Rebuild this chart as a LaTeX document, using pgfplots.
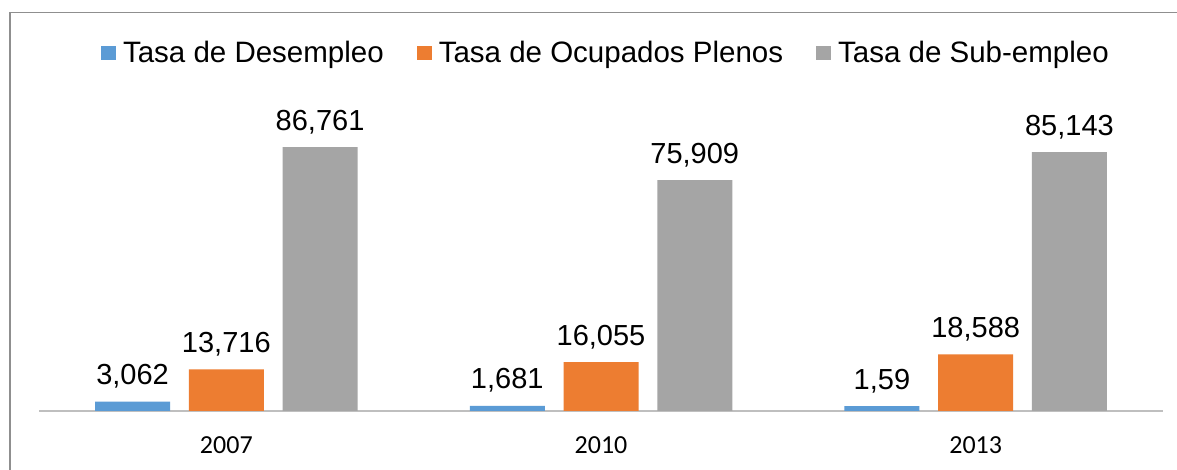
\documentclass[border=0pt]{standalone}
\usepackage{pgfplots}
\pgfplotsset{compat=1.18}
\usepackage{fontspec}
\setmainfont{Liberation Sans}
\newfontfamily\calibri{Carlito}
\definecolor{cblue}{HTML}{5B9BD5}
\definecolor{corange}{HTML}{ED7D31}
\definecolor{cgray}{HTML}{A5A5A5}
\definecolor{framegray}{HTML}{8F8F8F}
\definecolor{axisgray}{HTML}{BFBFBF}
\begin{document}
\begin{tikzpicture}
\useasboundingbox (0,0) rectangle (1177pt,470pt);
\fill[white] (0,0) rectangle (1177pt,470pt);
\draw[framegray, line width=1.2pt] (10pt,0) -- (10pt,457.5pt) -- (1177pt,457.5pt);
\begin{axis}[
  at={(39pt,59pt)}, anchor=south west,
  scale only axis, width=1124pt, height=304pt,
  xmin=-0.5, xmax=2.5, ymin=0, ymax=100,
  ybar=18.75pt, bar width=75pt,
  axis x line=bottom, axis y line=none,
  x axis line style={-, draw=axisgray, line width=1.3pt},
  xtick={0,1,2}, xticklabels={2007,2010,2013},
  major tick length=0pt,
  xticklabel style={font=\calibri\fontsize{26pt}{30pt}\selectfont, anchor=base, yshift=-43pt},
  ytick=\empty,
  clip=false,
  nodes near coords,
  every node near coord/.append style={font=\fontsize{29pt}{34pt}\selectfont, anchor=base, inner sep=0pt, yshift=17pt, text=black},
  /pgf/number format/.cd, use comma, fixed, precision=3, 1000 sep={}, assume math mode=true, /pgfplots/.cd,
  legend columns=3,
  legend image code/.code={\fill[#1,draw=none] (0pt,-6.5pt) rectangle (15pt,7.5pt);},
  legend style={at={(axis description cs:0.0552,1.1776)}, anchor=west, draw=none, fill=none, inner sep=0pt, outer sep=0pt,
    font=\fontsize{29.5pt}{34pt}\selectfont,
    /tikz/every odd column/.append style={column sep=5pt},
    /tikz/every even column/.append style={column sep=31pt}},
]
\addplot[fill=cblue, draw=none] coordinates {(0,3.062) (1,1.681) (2,1.59)};
\addplot[fill=corange, draw=none] coordinates {(0,13.716) (1,16.055) (2,18.588)};
\addplot[fill=cgray, draw=none] coordinates {(0,86.761) (1,75.909) (2,85.143)};
\legend{Tasa de Desempleo, Tasa de Ocupados Plenos, Tasa de Sub-empleo}
\end{axis}
\end{tikzpicture}
\end{document}
